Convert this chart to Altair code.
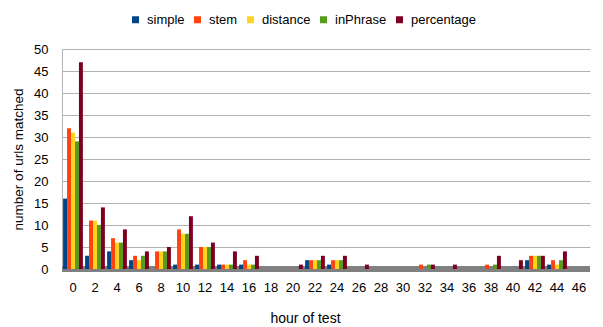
import altair as alt
import pandas as pd

hours = list(range(0, 48, 2))
series = ["simple", "stem", "distance", "inPhrase", "percentage"]
colors = ["#004586", "#ff420e", "#ffd320", "#579d1c", "#7e0021"]

simple =     [16, 3, 4, 2, 0, 1, 1, 1, 1, 0, 0, 2, 1, 0, 0, 0, 0, 0, 0, 0, 0, 2, 1, 0]
stem =       [32, 11, 7, 3, 4, 9, 5, 1, 2, 0, 0, 2, 2, 0, 0, 0, 1, 0, 0, 1, 0, 3, 2, 0]
distance =   [31, 11, 6, 2, 4, 8, 5, 1, 1, 0, 0, 2, 2, 0, 0, 0, 0, 0, 0, 0, 0, 3, 1, 0]
inPhrase =   [29, 10, 6, 3, 4, 8, 5, 1, 1, 0, 0, 2, 2, 0, 0, 0, 1, 0, 0, 1, 0, 3, 2, 0]
percentage = [47, 14, 9, 4, 5, 12, 6, 4, 3, 0, 1, 3, 3, 1, 0, 0, 1, 1, 0, 3, 2, 3, 4, 0]

vals = {"simple": simple, "stem": stem, "distance": distance,
        "inPhrase": inPhrase, "percentage": percentage}
rows = []
for s in series:
    for h, v in zip(hours, vals[s]):
        rows.append({"hour": h, "series": s, "value": v})
df = pd.DataFrame(rows)

FONT = "Liberation Sans"
yscale = alt.Scale(domain=[0, 50], nice=False)

def y_axis():
    return alt.Axis(title="number of urls matched", values=list(range(0, 55, 5)),
                    labelOverlap=False,
                    ticks=False, domain=True, domainColor="#b3b3b3",
                    labelPadding=14, titlePadding=8,
                    labelFontSize=13, titleFontSize=13.5,
                    titleFontWeight="normal", labelColor="#000",
                    titleColor="#000", gridColor="#b3b3b3")

x_enc = alt.X("hour:O", sort=hours,
              scale=alt.Scale(paddingInner=0.1, paddingOuter=0.05),
              axis=alt.Axis(title="hour of test", labelAngle=0, ticks=False,
                            domain=False, labelPadding=12, titlePadding=17,
                            labelFontSize=13, titleFontSize=14,
                            titleX=243,
                            titleFontWeight="normal", labelColor="#000",
                            titleColor="#000", grid=False))

floor = alt.Chart(df).transform_calculate(zero="0").mark_rule(
    color="#808080", strokeWidth=5
).encode(y=alt.Y("zero:Q", scale=yscale, axis=y_axis()))

bars = alt.Chart(df).mark_bar(stroke=None).encode(
    x=x_enc,
    xOffset=alt.XOffset("series:N", sort=series),
    y=alt.Y("value:Q", scale=yscale, axis=y_axis()),
    color=alt.Color("series:N", sort=series,
                    scale=alt.Scale(domain=series, range=colors),
                    legend=alt.Legend(title=None, orient="none", direction="horizontal",
                                      legendX=67, legendY=-36, symbolType="square",
                                      symbolSize=49, symbolStrokeWidth=0,
                                      labelFontSize=13, columnPadding=6,
                                      labelOffset=5,
                                      labelColor="#000", symbolOpacity=1)),
)

chart = alt.layer(floor, bars).properties(
    width=528, height=220,
    autosize=alt.AutoSizeParams(type="none"),
    padding={"left": 54, "top": 41, "right": 5, "bottom": 58},
).configure(font=FONT).configure_view(stroke=None)

chart.save("out.html", embed_options={"renderer": "svg", "actions": False})
